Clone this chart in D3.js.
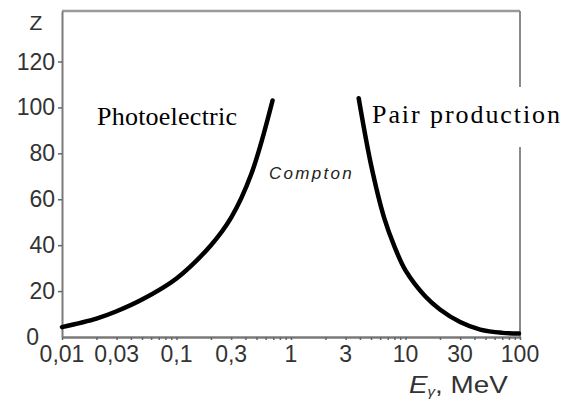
<!DOCTYPE html>
<html>
<head>
<meta charset="utf-8">
<script src="https://cdn.jsdelivr.net/npm/d3@7"></script>
<style>
  body { margin: 0; background: #fff; }
  svg { display: block; }
</style>
</head>
<body>
<div id="chart"></div>
<script>
// data
var photo_e = [0.01, 0.02, 0.03, 0.05, 0.1, 0.2, 0.3, 0.45, 0.69];
var photo_z = [4.3, 8, 11.2, 16.3, 25.5, 40, 52, 71, 103];
var pair_e = [3.9, 5, 6.5, 8, 10, 15, 20, 30, 45, 70, 98];
var pair_z = [104, 75, 52, 39.5, 29, 17.5, 12, 6.5, 3.2, 1.8, 1.5];
var x_ticks = [0.01, 0.03, 0.1, 0.3, 1, 3, 10, 30, 100];
var x_tick_labels = ['0,01', '0,03', '0,1', '0,3', '1', '3', '10', '30', '100'];
var y_ticks = [0, 20, 40, 60, 80, 100, 120];

var chart_width = 563;
var chart_height = 407;
var m_left = 62, m_right = 520, m_top = 11, m_bottom = 337;

var svg = d3.select('#chart')
    .append('svg')
    .attr('width', chart_width)
    .attr('height', chart_height)

var x_scale = d3.scaleLog()
    .domain([0.01, 100])
    .range([m_left, m_right])

var y_scale = d3.scaleLinear()
    .domain([0, 142])
    .range([m_bottom, m_top])

var sans = 'Liberation Sans, Arial, sans-serif';
var serif = 'Liberation Serif, Times New Roman, serif';

// frame
svg.append('line')
    .attr('x1', m_left).attr('x2', m_right).attr('y1', m_top).attr('y2', m_top)
    .attr('stroke', '#9a9a9a').attr('stroke-width', 2.5)
svg.append('line')
    .attr('x1', m_right).attr('x2', m_right).attr('y1', m_top).attr('y2', m_bottom)
    .attr('stroke', '#8a8a8a').attr('stroke-width', 2)

// x axis with minor ticks
var minor = [];
for (var d = -2; d < 2; d++) {
    for (var m = 1; m < 10; m++) minor.push(m * Math.pow(10, d));
}
minor.push(100);
var x_axis = d3.axisBottom(x_scale)
    .tickValues(minor)
    .tickSize(3)
    .tickSizeOuter(0)
    .tickFormat('')
svg.append('g')
    .attr('transform', 'translate(0,' + m_bottom + ')')
    .call(x_axis)
    .call(function (g) {
        g.select('.domain').attr('stroke', '#7a7a7a').attr('stroke-width', 2.5)
        g.selectAll('.tick line').attr('stroke', '#666').attr('stroke-width', 1.5)
    })

svg.selectAll('.xlab')
    .data(x_ticks)
    .enter()
    .append('text')
    .attr('class', 'xlab')
    .text(function (d, i) { return x_tick_labels[i]; })
    .attr('x', function (d) { return x_scale(d); })
    .attr('y', 362)
    .attr('text-anchor', 'middle')
    .attr('font-family', sans)
    .attr('font-size', 23)
    .attr('fill', '#333')

// y axis
var y_axis = d3.axisLeft(y_scale)
    .tickValues(y_ticks.slice(1))
    .tickSize(4)
    .tickSizeOuter(0)
    .tickFormat('')
svg.append('g')
    .attr('transform', 'translate(' + m_left + ',0)')
    .call(y_axis)
    .call(function (g) {
        g.select('.domain').attr('stroke', '#7a7a7a').attr('stroke-width', 2)
        g.selectAll('.tick line').attr('stroke', '#666').attr('stroke-width', 1.5)
    })

svg.selectAll('.ylab')
    .data(y_ticks)
    .enter()
    .append('text')
    .attr('class', 'ylab')
    .text(function (d) { return d; })
    .attr('x', function (d) { return d === 0 ? 39 : 55; })
    .attr('y', function (d) { return y_scale(d) + 8; })
    .attr('text-anchor', 'end')
    .attr('font-family', sans)
    .attr('font-size', 23)
    .attr('fill', '#333')

svg.append('text')
    .text('Z')
    .attr('x', 36).attr('y', 30)
    .attr('text-anchor', 'middle')
    .attr('font-family', sans)
    .attr('font-size', 21)
    .attr('fill', '#333')

// axis title (slightly stretched like the original)
var title = svg.append('text')
    .attr('transform', 'translate(409,393) scale(1.16,1)')
    .attr('font-family', sans)
    .attr('font-size', 24)
    .attr('fill', '#333')
title.append('tspan').attr('font-style', 'italic').text('E')
title.append('tspan').attr('font-size', 13).attr('font-style', 'italic').attr('dy', 3).text('γ')
title.append('tspan').attr('dy', -3).text(', MeV')

// curves
var line = d3.line()
    .x(function (d) { return x_scale(d[0]); })
    .y(function (d) { return y_scale(d[1]); })
    .curve(d3.curveCatmullRom.alpha(0.5))

svg.append('path')
    .datum(d3.zip(photo_e, photo_z))
    .attr('d', line)
    .attr('fill', 'none')
    .attr('stroke', '#000')
    .attr('stroke-width', 4.5)
    .attr('stroke-linecap', 'round')

svg.append('path')
    .datum(d3.zip(pair_e, pair_z))
    .attr('d', line)
    .attr('fill', 'none')
    .attr('stroke', '#000')
    .attr('stroke-width', 4.5)
    .attr('stroke-linecap', 'round')

// labels
svg.append('text')
    .text('Photoelectric')
    .attr('x', 97).attr('y', 125)
    .attr('font-family', serif)
    .attr('font-size', 26)
    .attr('textLength', 140)
    .attr('fill', '#000')

svg.append('rect')
    .attr('x', 505).attr('y', 87).attr('width', 30).attr('height', 60)
    .attr('fill', '#fff')
svg.append('text')
    .text('Pair production')
    .attr('x', 372).attr('y', 123)
    .attr('font-family', serif)
    .attr('font-size', 26)
    .attr('textLength', 188)
    .attr('fill', '#000')

svg.append('text')
    .text('Compton')
    .attr('x', 269).attr('y', 179)
    .attr('font-family', sans)
    .attr('font-style', 'italic')
    .attr('font-size', 17)
    .attr('letter-spacing', 2.3)
    .attr('fill', '#222')
</script>
</body>
</html>
